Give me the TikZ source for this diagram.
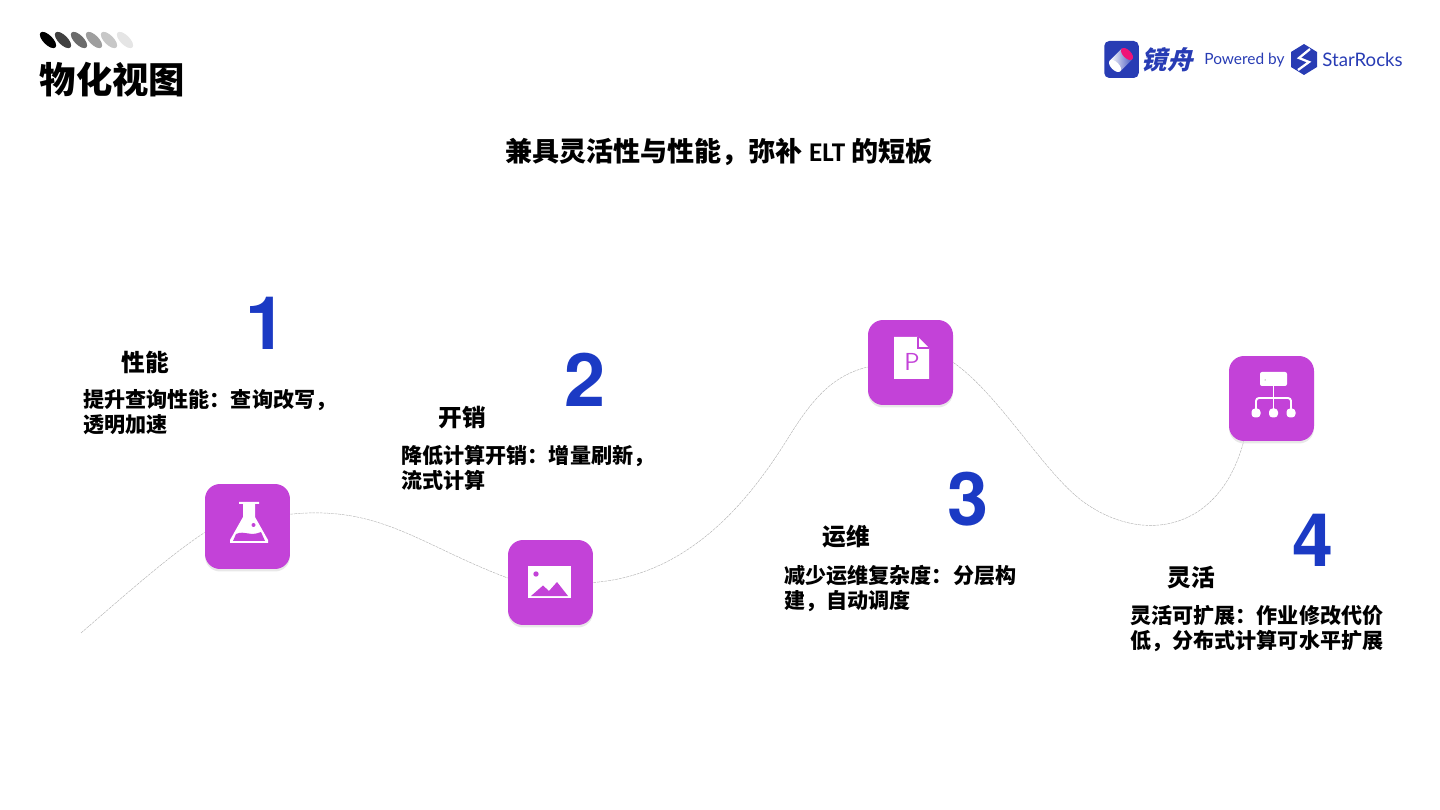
\documentclass[tikz,border=0pt]{standalone}
\usepackage{fontspec}
\setmainfont{Noto Sans CJK SC}
\newfontfamily\numfont{TeX Gyre Heros}
\newfontfamily\logofont{Lato}
\newfontfamily\latinfont{Carlito}
\newfontfamily\slantfont{Noto Sans CJK SC}[FakeSlant=0.25]
\usetikzlibrary{shapes.geometric,shadows}
\newcommand{\zhcomma}{^^^^ff0c}
\newcommand{\zhcolon}{^^^^ff1a}
\definecolor{iconpurple}{RGB}{195,66,216}
\definecolor{numblue}{RGB}{27,58,196}
\definecolor{logoblue}{RGB}{40,60,180}
\definecolor{logopink}{RGB}{240,20,120}
\tikzset{
  leaf/.style={ellipse,minimum width=0.42cm,minimum height=0.19cm,inner sep=0,rotate=-45},
  iconbox/.style={fill=iconpurple,rounded corners=0.3cm,minimum size=1.7cm,inner sep=0,
    drop shadow={opacity=0.18,shadow xshift=0,shadow yshift=-0.05cm}},
  trail/.style={gray!60,line width=0.25pt,dash pattern=on 1.6pt off 0.5pt},
  heading/.style={font=\bfseries\fontsize{13.5}{16}\selectfont,text=black,inner sep=0},
  body/.style={font=\bfseries\fontsize{12}{14.3}\selectfont,text=black,inner sep=0,anchor=north west,align=left},
  number/.style={font=\numfont\bfseries\fontsize{42}{42}\selectfont,text=numblue,inner sep=0},
}
\begin{document}
\begin{tikzpicture}[x=0.02cm,y=-0.02cm]
\useasboundingbox (0,0) rectangle (1440,810);
\foreach \n/\x/\g in {1/48/100,2/63/75,3/79/58,4/94/38,5/109/22,6/125/10}
  \node [leaf,fill=black!\g] (leaf\n) at (\x,40) {};
\node [inner sep=0,font=\bfseries\fontsize{20.7}{24}\selectfont] (title) at (112.5,80) {物化视图};
\node [inner sep=0,font=\bfseries\fontsize{15.4}{18}\selectfont] (subtitle) at (719,152) {兼具灵活性与性能\zhcomma 弥补 {\latinfont ELT} 的短板};

\coordinate (start) at (81,633);
\node [iconbox] (flask) at (247.5,526.5) {};
\node [iconbox] (image) at (550.5,582.5) {};
\node [iconbox] (doc) at (910.5,362.5) {};
\node [iconbox] (net) at (1271.5,398.5) {};
\draw [trail] (start) .. controls (125,595) and (170,555) .. (flask.188);
\draw [trail] (flask.16) .. controls (380,505) and (420,545) .. (image.174);
\draw [trail] (image.east) .. controls (690,575) and (750,500) .. (790,435) .. controls (815,395) and (835,375) .. (doc.186);
\draw [trail] (doc.east) .. controls (1000,395) and (1045,475) .. (1085,503) .. controls (1145,545) and (1220,530) .. (net.-123);

\fill [white] (239,502) -- (259,502) -- (259,504) -- (255,504) -- (255,517) -- (268,540)
  -- (268,543) -- (230,543) -- (230,540) -- (243,517) -- (243,504) -- (239,504) -- cycle;
\fill [iconpurple] (233,541) -- (236,534) .. controls (245,530) and (250,537) .. (261,532) -- (265,541) -- cycle;
\fill [iconpurple] (253.5,525) circle [radius=2];

\fill [white] (528,566) rectangle (571,598);
\fill [iconpurple] (536,574) circle [radius=2.7];
\fill [iconpurple] (531,596) -- (543,585.5) -- (549,591) -- (557,582) -- (568,596) -- cycle;

\fill [white] (894,337) -- (918,337) -- (929,348) -- (929,379) -- (894,379) -- cycle;
\draw [iconpurple,line width=0.6pt] (918,337) -- (918,348) -- (929,348);
\node [inner sep=0,text=iconpurple,font=\sffamily\fontsize{14}{14}\selectfont] (pletter) at (912,361.5) {P};

\fill [white,rounded corners=0.04cm] (1260,372) rectangle (1287,386);
\fill [black!70] (1265,380) circle [radius=0.5];
\draw [white,line width=1.1pt] (1273.5,386) -- (1273.5,412);
\draw [white,line width=1.1pt,rounded corners=0.06cm] (1256,412) -- (1256,398) -- (1291,398) -- (1291,412);
\foreach \x in {1256,1273.5,1291}
  \fill [white,rounded corners=0.07cm] (\x-4.5,408.5) rectangle (\x+4.5,417.5);

\node [number] (num1) at (266,323) {1};
\node [number] (num2) at (585.5,380) {2};
\node [number] (num3) at (968.5,499) {3};
\node [number] (num4) at (1313,540) {4};

\node [heading] (head1) at (145.5,362) {性能};
\node [heading] (head2) at (462,418) {开销};
\node [heading] (head3) at (846.5,537) {运维};
\node [heading] (head4) at (1191.5,578) {灵活};

\node [body] (body1) at (83,389) {提升查询性能\zhcolon 查询改写\zhcomma\\透明加速};
\node [body] (body2) at (401,445) {降低计算开销\zhcolon 增量刷新\zhcomma\\流式计算};
\node [body] (body3) at (784,565) {减少运维复杂度\zhcolon 分层构\\建\zhcomma 自动调度};
\node [body] (body4) at (1130,605) {灵活可扩展\zhcolon 作业修改代价\\低\zhcomma 分布式计算可水平扩展};

\node [fill=logoblue,rounded corners=0.1cm,minimum width=0.69cm,minimum height=0.74cm,inner sep=0] (logo) at (1121.5,59.5) {};
\node [rotate=45,left color=white,right color=logoblue!85!white,minimum width=0.34cm,minimum height=0.3cm,inner sep=0] (barrel) at (1121,60) {};
\node [ellipse,fill=white,rotate=45,minimum width=0.16cm,minimum height=0.3cm,inner sep=0] (barrelend) at (1115,66) {};
\node [ellipse,fill=logopink,rotate=45,minimum width=0.16cm,minimum height=0.3cm,inner sep=0] (barreltop) at (1127,54) {};
\node [inner sep=0,text=logoblue,font=\slantfont\bfseries\fontsize{14.5}{16}\selectfont] (brand) at (1167,60) {镜舟};
\node [inner sep=0,text=logoblue,font=\logofont\fontsize{8.8}{11}\selectfont] (powered) at (1244.5,60) {Powered by};
\fill [logoblue] (1304,44) -- (1317,52) -- (1317,67) -- (1304,75) -- (1291,67) -- (1291,52) -- cycle;
\draw [white,line width=1.3pt] (1310,49) -- (1299,58) -- (1309,62) -- (1298,70);
\node [inner sep=0,text=logoblue,font=\logofont\fontsize{10.6}{12}\selectfont] (starrocks) at (1362.5,60) {StarRocks};
\end{tikzpicture}
\end{document}
